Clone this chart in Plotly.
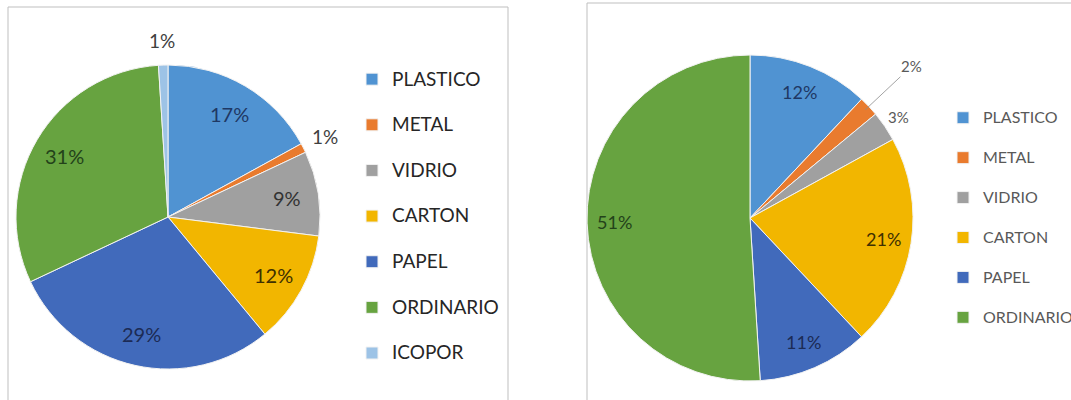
import math
import plotly.graph_objects as go

# ---- data ----
categories_left = ["PLASTICO", "METAL", "VIDRIO", "CARTON", "PAPEL", "ORDINARIO", "ICOPOR"]
values_left = [17, 1, 9, 12, 29, 31, 1]

categories_right = ["PLASTICO", "METAL", "VIDRIO", "CARTON", "PAPEL", "ORDINARIO"]
values_right = [12, 2, 3, 21, 11, 51]

# ---- styles ----
W, H = 1071, 400
FONT = "Lato"
color_map = {
    "PLASTICO": "#5093D2", "METAL": "#E97B2E", "VIDRIO": "#A0A0A0",
    "CARTON": "#F2B600", "PAPEL": "#416ABB", "ORDINARIO": "#67A340",
    "ICOPOR": "#9DC3E6",
}
label_color_map = {
    "PLASTICO": "#1F3864", "METAL": "#404040", "VIDRIO": "#333333",
    "CARTON": "#3F3000", "PAPEL": "#1C2B55", "ORDINARIO": "#23421A",
    "ICOPOR": "#404040",
}


def sx(x):
    return x / W


def sy(y):
    return 1 - y / H


def px_domain(cx, cy, r):
    return dict(x=[sx(cx - r), sx(cx + r)], y=[sy(cy + r), sy(cy - r)])


def styled(cats, size):
    return ['<span style="font-size:%dpx">%s</span><br> ' % (size, c) for c in cats]


def slice_labels(cats, vals, cx, cy, r, f_in, f_out, size_in, size_out, out_color, leader=None):
    total = float(sum(vals))
    anns = []
    cum = 0.0
    for c, v in zip(cats, vals):
        mid = (cum + v / 2.0) / total * 2 * math.pi
        cum += v
        pct = "%d%%" % round(100 * v / total)
        inside = v > 3
        f = f_in if inside else f_out
        if leader and c in leader:
            f = leader[c]
        tx = cx + f * r * math.sin(mid)
        ty = cy - f * r * math.cos(mid)
        a = dict(xref="paper", yref="paper", text=pct, showarrow=False,
                 xanchor="center", yanchor="middle",
                 font=dict(family=FONT, size=size_in if inside else size_out,
                           color=label_color_map[c] if inside else out_color))
        if leader and c in leader:
            ex = cx + r * 0.97 * math.sin(mid)
            ey = cy - r * 0.97 * math.cos(mid)
            a.update(x=sx(ex), y=sy(ey), showarrow=True, arrowhead=0,
                     arrowwidth=0.8, arrowcolor="#8C8C8C",
                     ax=tx - ex, ay=ty - ey)
        else:
            a.update(x=sx(tx), y=sy(ty))
        anns.append(a)
    return anns


LCX, LCY, LR = 168, 217, 152
RCX, RCY, RR = 750, 218, 163

fig = go.Figure()

fig.add_trace(go.Pie(
    labels=styled(categories_left, 19), values=values_left,
    sort=False, direction="clockwise", rotation=0,
    marker=dict(colors=[color_map[c] for c in categories_left], line=dict(color="#F2F2F2", width=1)),
    textinfo="none",
    domain=px_domain(LCX, LCY, LR),
    legend="legend", hoverinfo="percent",
))

fig.add_trace(go.Pie(
    labels=styled(categories_right, 16), values=values_right,
    sort=False, direction="clockwise", rotation=0,
    marker=dict(colors=[color_map[c] for c in categories_right], line=dict(color="#F2F2F2", width=1)),
    textinfo="none",
    domain=px_domain(RCX, RCY, RR),
    legend="legend2", hoverinfo="percent",
))

annotations = []
annotations += slice_labels(categories_left, values_left, LCX, LCY, LR,
                            0.79, 1.16, 20, 19, "#404040")
annotations += slice_labels(categories_right, values_right, RCX, RCY, RR,
                            0.83, 1.1, 18, 15, "#595959", leader={"METAL": 1.36})

fig.update_layout(
    width=W, height=H,
    margin=dict(l=0, r=0, t=0, b=0, autoexpand=False),
    paper_bgcolor="white",
    font=dict(family=FONT),
    annotations=annotations,
    legend=dict(x=sx(352), y=sy(62),
                xanchor="left", yanchor="top",
                valign="top", bgcolor="rgba(0,0,0,0)",
                font=dict(family=FONT, size=16.4, color="#262626")),
    legend2=dict(x=sx(943), y=sy(102),
                 xanchor="left", yanchor="top",
                 valign="top", bgcolor="rgba(0,0,0,0)",
                 font=dict(family=FONT, size=14.2, color="#595959")),
    shapes=[
        dict(type="rect", xref="paper", yref="paper",
             x0=sx(8), x1=sx(508), y0=-0.05, y1=sy(7),
             line=dict(color="#BFBFBF", width=1), fillcolor="rgba(0,0,0,0)", layer="below"),
        dict(type="rect", xref="paper", yref="paper",
             x0=sx(587), x1=1.05, y0=-0.05, y1=sy(3),
             line=dict(color="#BFBFBF", width=1), fillcolor="rgba(0,0,0,0)", layer="below"),
    ],
)

fig.write_html("out.html", config={"responsive": False, "displayModeBar": False},
               post_script="document.body.style.margin='0';")
